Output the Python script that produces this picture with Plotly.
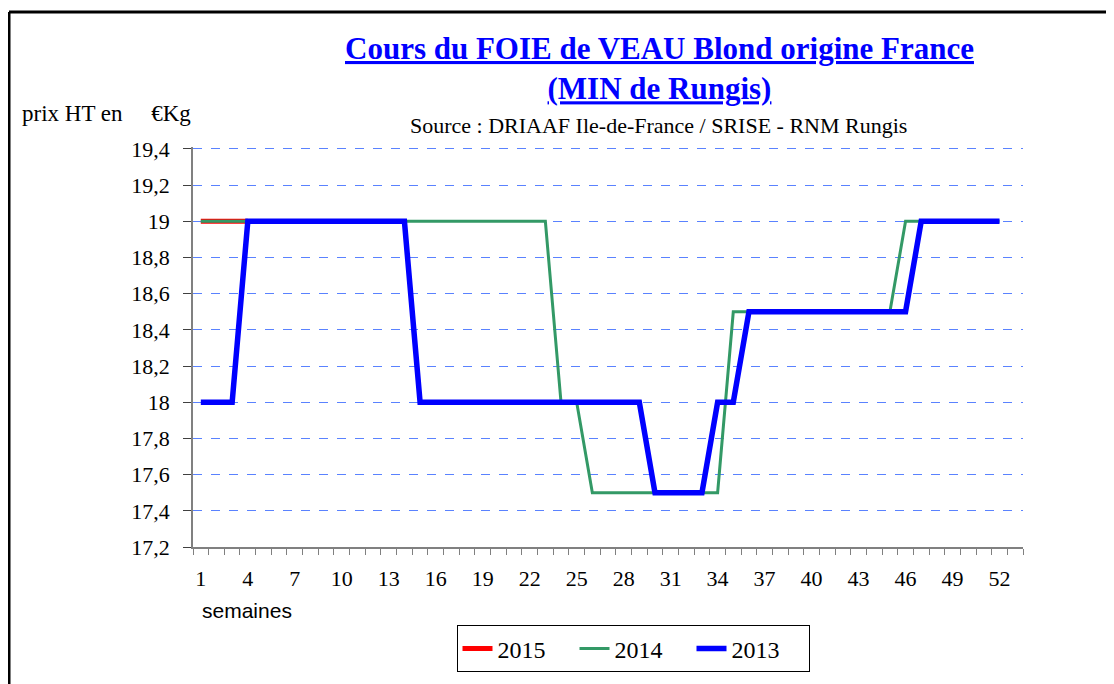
import plotly.graph_objects as go

weeks = list(range(1, 53))

price_2015 = [19, 19, 19, 19]

price_2014 = [19, 19, 19, 19, 19, 19, 19, 19, 19, 19,
              19, 19, 19, 19, 19, 19, 19, 19, 19, 19,
              19, 19, 19, 18, 18, 17.5, 17.5, 17.5, 17.5, 17.5,
              17.5, 17.5, 17.5, 17.5, 18.5, 18.5, 18.5, 18.5, 18.5, 18.5,
              18.5, 18.5, 18.5, 18.5, 18.5, 19, 19, 19, 19, 19,
              19, 19]

price_2013 = [18, 18, 18, 19, 19, 19, 19, 19, 19, 19,
              19, 19, 19, 19, 18, 18, 18, 18, 18, 18,
              18, 18, 18, 18, 18, 18, 18, 18, 18, 17.5,
              17.5, 17.5, 17.5, 18, 18, 18.5, 18.5, 18.5, 18.5, 18.5,
              18.5, 18.5, 18.5, 18.5, 18.5, 18.5, 19, 19, 19, 19,
              19, 19]

x_tick_vals = [1, 4, 7, 10, 13, 16, 19, 22, 25, 28, 31, 34, 37, 40, 43, 46, 49, 52]
y_tick_vals = [17.2, 17.4, 17.6, 17.8, 18.0, 18.2, 18.4, 18.6, 18.8, 19.0, 19.2, 19.4]
y_tick_text = ["17,2", "17,4", "17,6", "17,8", "18", "18,2", "18,4", "18,6", "18,8", "19", "19,2", "19,4"]

SERIF = "Liberation Serif, Times New Roman, serif"
SANS = "Liberation Sans, Arial, sans-serif"

fig = go.Figure()
fig.add_trace(go.Scatter(x=weeks[:len(price_2015)], y=price_2015, name="2015", mode="lines",
                         line=dict(color="#FF0000", width=5)))
fig.add_trace(go.Scatter(x=weeks, y=price_2014, name="2014", mode="lines",
                         line=dict(color="#339966", width=3)))
fig.add_trace(go.Scatter(x=weeks, y=price_2013, name="2013", mode="lines",
                         line=dict(color="#0000FF", width=5.5)))

# page offset (default body margin of the HTML page)
O = 8
W, H = 1106, 676
pw, ph = 830, 403
L, T = 193 - O, 147 - O
R = W - L - pw
B = H - T - ph


def px(x):
    return (x - O - L) / pw


def py(y):
    return (H - B - (y - O)) / ph


fig.update_layout(
    width=W, height=H,
    margin=dict(l=L, r=R, t=T, b=B),
    paper_bgcolor="white", plot_bgcolor="white",
    showlegend=True,
    legend=dict(orientation="h", x=px(633), xanchor="center", y=py(629), yanchor="top",
                bordercolor="black", borderwidth=1,
                font=dict(family=SERIF, size=24, color="black"),
                bgcolor="white", entrywidth=72, entrywidthmode="pixels"),
    xaxis=dict(range=[0.5, 53.5], tickmode="array", tickvals=x_tick_vals,
               ticks="", showgrid=False, zeroline=False,
               showline=True, linecolor="#808080", linewidth=1.5,
               tickfont=dict(family=SERIF, size=22, color="black"),
               ticklabelstandoff=11,
               minor=dict(ticks="outside", tick0=0.5, dtick=1, ticklen=6, tickcolor="#808080",
                          showgrid=False)),
    yaxis=dict(range=[17.2, 19.411], tickmode="array", tickvals=y_tick_vals, ticktext=y_tick_text,
               ticks="outside", ticklen=8, tickcolor="#404040",
               showgrid=True, gridcolor="#5A82FF", griddash="dash", gridwidth=1,
               zeroline=False, showline=True, linecolor="#808080", linewidth=1.5,
               tickfont=dict(family=SERIF, size=22, color="black"),
               ticklabelstandoff=9),
    shapes=[
        dict(type="line", xref="paper", yref="paper", x0=px(9), x1=px(1140), y0=py(11), y1=py(11),
             line=dict(color="black", width=3)),
        dict(type="line", xref="paper", yref="paper", x0=px(9), x1=px(9), y0=py(11), y1=py(720),
             line=dict(color="black", width=3)),
    ],
    annotations=[
        dict(text="<b><u>Cours du FOIE de VEAU Blond origine France</u></b><br><b><u>(MIN de Rungis)</u></b>",
             xref="paper", yref="paper", x=px(659), y=py(68), xanchor="center", yanchor="middle",
             showarrow=False, font=dict(family=SERIF, size=31, color="#0000FF")),
        dict(text="Source : DRIAAF Ile-de-France / SRISE - RNM Rungis",
             xref="paper", yref="paper", x=px(658), y=py(125), xanchor="center", yanchor="middle",
             showarrow=False, font=dict(family=SERIF, size=22, color="black")),
        dict(text="prix HT en \u00a0\u00a0\u00a0\u00a0€Kg",
             xref="paper", yref="paper", x=px(20), y=py(113), xanchor="left", yanchor="middle",
             showarrow=False, font=dict(family=SERIF, size=23, color="black")),
        dict(text="semaines",
             xref="paper", yref="paper", x=px(200), y=py(614), xanchor="left", yanchor="middle",
             showarrow=False, font=dict(family=SANS, size=21, color="black")),
    ],
)

fig.write_html("out.html")
